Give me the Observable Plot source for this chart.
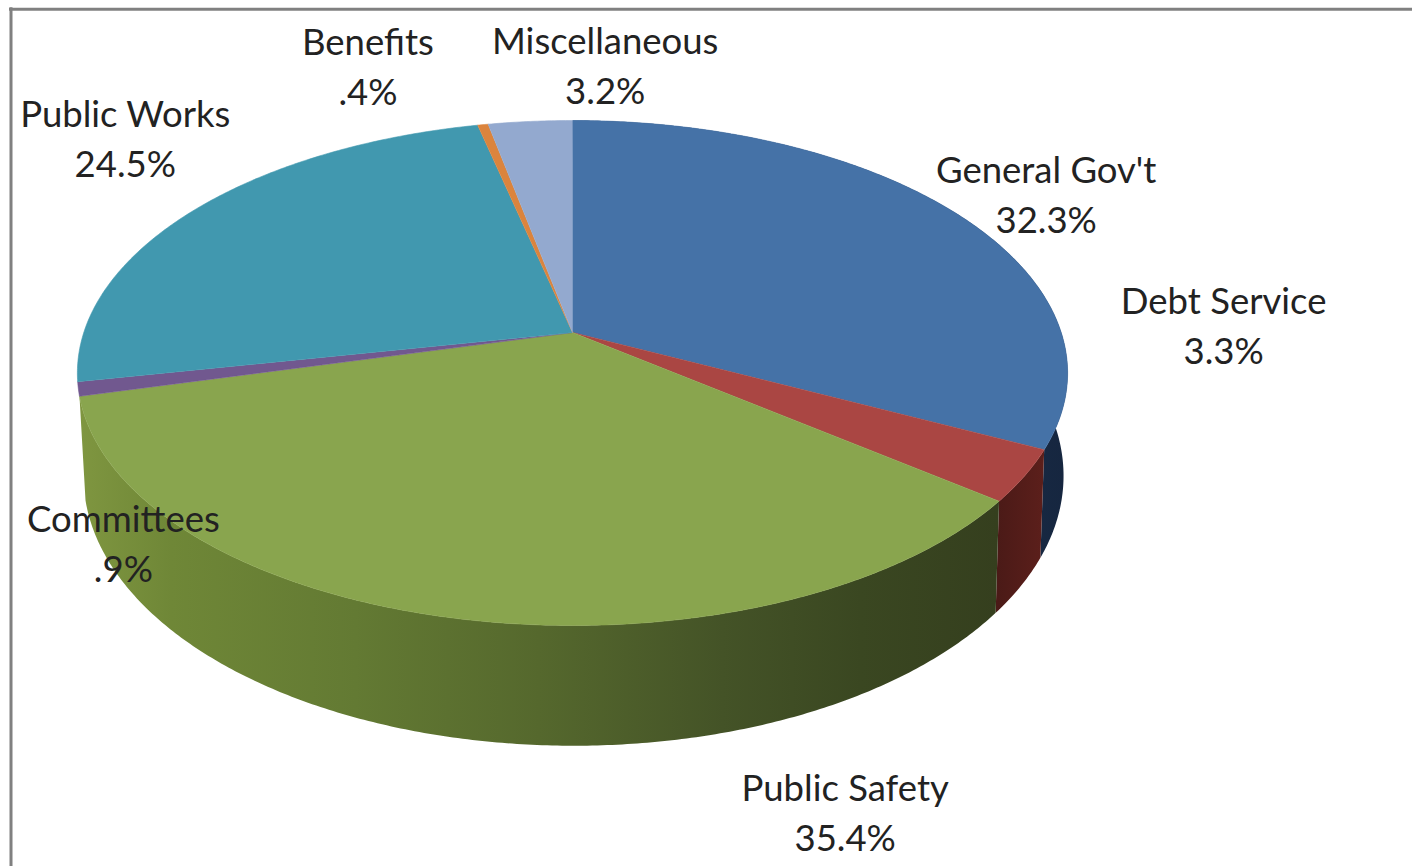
<!DOCTYPE html>
<html>
<head>
<meta charset="utf-8">
<script src="https://cdn.jsdelivr.net/npm/d3@7"></script>
<script src="https://cdn.jsdelivr.net/npm/@observablehq/plot@0.6"></script>
<style>
  html, body { margin: 0; padding: 0; background: #fff; }
  svg { display: block; }
</style>
</head>
<body>
<div id="chart"></div>
<script>
// Budget shares, clockwise from twelve o'clock
const categories = ["General Gov't", "Debt Service", "Public Safety", "Committees", "Public Works", "Benefits", "Miscellaneous"];
const shares = [32.3, 3.3, 35.4, 0.9, 24.5, 0.4, 3.2];
const shareLabels = ["32.3%", "3.3%", "35.4%", ".9%", "24.5%", ".4%", "3.2%"];
const faceColors = ["#4572A7", "#AA4643", "#89A54E", "#71588F", "#4198AF", "#DB843D", "#93A9CF"];

// Label placement relative to each slice's rim midpoint
const labelDx = [91, 199, 392, 45, -70, -115, 75];
const labelDy = [-21, -153, 192, 152, -73, -61, -58];

// Only these slices show a rim from the viewing angle
const rimSlices = ["General Gov't", "Debt Service", "Public Safety"];
const rimShades = {
  "General Gov't": [[0, "#24436b"], [1, "#16263f"]],
  "Debt Service": [[0, "#4a1a17"], [1, "#5c1f1b"]],
  "Public Safety": [[0, "#7f9640"], [0.1, "#6f8737"], [0.3, "#637a33"], [0.5, "#55682d"], [0.7, "#445327"], [0.85, "#3a4721"], [1, "#353f1e"]]
};

const width = 1418;
const height = 866;

// Perspective of the upper and lower discs
const upperDisc = {cx: 572, cy: 332, a: 488.7, b: 246, k: 0.1604};
const lowerDisc = {cx: 573, cy: 432, a: 483.7, b: 263, k: 0.1604};

function project(disc, fraction) {
  const t = fraction * 2 * Math.PI;
  const u = Math.sin(t);
  const v = -Math.cos(t);
  const d = 1 - disc.k * v;
  return {x: disc.cx + (disc.a * u) / d, y: disc.cy + (disc.b * v) / d};
}

function arc(disc, from, to) {
  const n = Math.max(2, Math.ceil((to - from) * 720));
  return d3.range(n + 1).map((i) => project(disc, from + ((to - from) * i) / n));
}

const total = d3.sum(shares);
const ends = d3.cumsum(shares).map((s) => s / total);
const slices = categories.map((name, i) => ({
  name,
  label: shareLabels[i],
  start: i ? ends[i - 1] : 0,
  end: ends[i],
  dx: labelDx[i],
  dy: labelDy[i]
}));

const faces = slices.flatMap((s) => [
  {name: s.name, x: upperDisc.cx, y: upperDisc.cy},
  ...arc(upperDisc, s.start, s.end).map((p) => ({name: s.name, ...p}))
]);

const rimId = (name) => "rim-" + name.replace(/\W/g, "");
const rimMark = (s) =>
  Plot.line(
    [...arc(upperDisc, s.start, s.end), ...arc(lowerDisc, s.start, s.end).reverse()],
    {x: "x", y: "y", fill: `url(#${rimId(s.name)})`, stroke: "none"}
  );

const gradients = () => {
  const defs = d3.create("svg:defs");
  for (const name of rimSlices) {
    const g = defs.append("linearGradient").attr("id", rimId(name));
    for (const [offset, color] of rimShades[name]) {
      g.append("stop").attr("offset", offset).attr("stop-color", color);
    }
  }
  return defs.node();
};

const labels = slices.map((s) => {
  const p = project(upperDisc, (s.start + s.end) / 2);
  return {text: `${s.name}\n${s.label}`, x: p.x + s.dx, y: p.y + s.dy};
});

const chart = Plot.plot({
  width,
  height,
  margin: 0,
  x: {domain: [0, width], range: [0, width], axis: null},
  y: {domain: [0, height], range: [0, height], axis: null},
  color: {domain: categories, range: faceColors},
  style: {background: "#fff"},
  marks: [
    gradients,
    // Outer frame of the chart area
    Plot.ruleY([8.8], {x1: 9, x2: 1412, stroke: "#808080", strokeWidth: 3}),
    Plot.ruleX([10.5], {y1: 7.3, y2: height, stroke: "#808080", strokeWidth: 3}),
    ...slices.filter((s) => rimSlices.includes(s.name)).map(rimMark),
    Plot.line(faces, {x: "x", y: "y", z: "name", fill: "name", stroke: "name", strokeWidth: 0.6}),
    Plot.text(labels, {
      x: "x",
      y: "y",
      text: "text",
      fontFamily: "Lato",
      fontSize: 36.5,
      lineHeight: 1.37,
      fill: "#222"
    })
  ]
});

document.getElementById("chart").append(chart);
</script>
</body>
</html>
